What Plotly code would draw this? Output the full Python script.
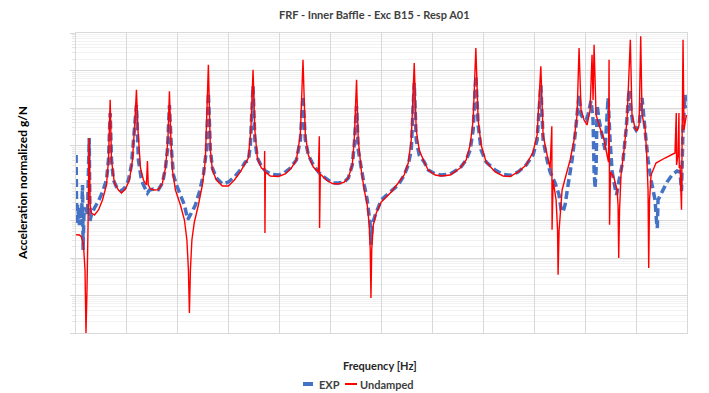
import plotly.graph_objects as go

# ---- data (frequency in Hz, acceleration in g/N) ----
freq_exp = [0.2, 1.4, 2.9, 4.9, 6.9, 8.8, 10.8, 12.8, 13.9, 15.7, 18.6, 20.6, 22.6, 25.9, 27.5, 30.4,
            36.3, 44.2, 52.0, 59.9, 63.8, 67.1, 69.7, 73.6, 81.4, 89.3, 97.1, 103.0, 108.9, 118.7, 122.6,
            128.5, 134.4, 140.3, 144.3, 152.1, 161.9, 169.8, 175.7, 179.6, 183.5, 187.5, 191.4, 197.3,
            205.1, 213.0, 219.4, 226.6, 234.5, 242.3, 250.2, 256.1, 260.0, 263.9, 267.9, 275.7, 287.5,
            299.3, 311.1, 322.8, 332.6, 338.5, 342.4, 347.7, 351.3, 356.2, 364.1, 371.9, 383.7, 397.4,
            409.2, 421.0, 432.8, 440.6, 445.8, 450.4, 456.3, 466.1, 477.9, 489.6, 503.4, 515.1, 526.9,
            534.8, 542.6, 546.5, 551.0, 554.4, 560.2, 566.1, 572.0, 577.9, 579.3, 581.8, 587.7, 599.5,
            619.1, 632.9, 644.6, 652.5, 658.4, 664.3, 668.2, 674.1, 683.9, 691.7, 705.5, 717.2, 734.9,
            754.5, 766.3, 774.1, 780.0, 785.3, 789.8, 795.7, 805.5, 823.2, 838.9, 852.6, 868.3, 884.0,
            897.7, 905.6, 912.9, 917.4, 925.2, 931.1, 940.9, 948.8, 952.7, 956.6, 960.5, 966.4, 974.3,
            980.2, 988.0, 991.9, 995.9, 1001.7, 1005.7, 1009.6, 1011.6, 1015.5, 1017.5, 1019.4, 1021.4,
            1023.4, 1027.3, 1033.2, 1039.1, 1045.0, 1048.9, 1052.8, 1058.7, 1061.6, 1068.5, 1074.4,
            1080.3, 1086.2, 1090.1, 1094.1, 1100.0, 1105.9, 1111.7, 1117.6, 1123.5, 1129.4, 1137.3,
            1140.1, 1141.7, 1143.1, 1152.9, 1160.8, 1170.6, 1180.4, 1186.3, 1189.2, 1192.2, 1196.1, 1200.0]
acc_exp = [0.558, 0.00759, 0.0259, 0.0140, 0.00759, 0.0216, 0.0117, 0.0885, 0.00163, 0.0169, 0.0216,
           0.0191, 0.0140, 1.58, 0.0097, 0.0149,
           0.0216, 0.0331, 0.0575, 0.120, 0.411, 7.36, 0.411, 0.120, 0.0692, 0.0612, 0.0782, 0.120,
           0.302, 12.0, 0.411,
           0.120, 0.0782, 0.0541, 0.0651, 0.0692, 0.0663, 0.100, 0.251, 0.759, 12.0, 0.759, 0.163,
           0.0885,
           0.0479, 0.0259, 0.0105, 0.0158, 0.0259, 0.0575, 0.163, 0.759, 25.1, 0.759, 0.251, 0.136,
           0.094,
           0.106, 0.145, 0.222, 0.363, 0.386, 1.03, 38.6, 1.40, 0.464, 0.284, 0.209, 0.169, 0.163,
           0.185, 0.251, 0.411, 1.40, 20.9, 1.40, 0.558, 0.302, 0.185, 0.136, 0.100, 0.100, 0.106,
           0.136, 0.302, 1.03, 11.3, 0.759, 0.251, 0.0885, 0.0352, 0.00759, 0.00226, 0.00759, 0.0140,
           0.0352,
           0.0612, 0.0885, 0.163, 0.302, 0.759, 46.4, 1.40, 0.558, 0.363, 0.222, 0.174, 0.163, 0.174,
           0.251, 0.411, 0.759, 2.59, 71.3, 3.52, 0.759, 0.363, 0.222, 0.169, 0.160, 0.197, 0.302,
           0.558, 1.40, 41.0, 1.40, 0.411, 0.197, 0.100, 0.0479, 0.0191, 0.0169, 0.0259, 0.0885,
           0.411,
           1.91, 22.2, 6.51, 5.41, 4.79, 6.51, 12.0, 15.4, 4.79, 0.222, 0.0736, 0.222,
           12.0, 4.79, 1.91, 0.759, 18.5, 1.40, 0.209, 0.0736, 0.0479, 0.163, 0.411,
           2.59, 30.2, 8.84, 3.52, 2.59, 3.52, 18.5, 2.59, 0.411, 0.120, 0.0352,
           0.0097, 0.00631, 0.0352, 0.0651, 0.106, 0.163, 0.209, 0.197, 0.0612, 2.93, 22.2, 10.0]

freq_und = [0.2, 6.9, 10.8, 14.7, 17.7, 19.6, 21.6, 23.5, 25.9, 27.9, 30.4, 36.3, 44.2, 52.0, 59.9,
            63.8, 67.1, 69.7, 75.5, 83.4, 89.3, 97.1, 104.9, 110.9, 115.8, 118.7, 121.7, 126.6, 132.5,
            138.3, 140.3, 141.9, 146.2, 154.0, 161.9, 169.8, 175.7, 180.5, 183.5, 186.4, 189.4, 195.3,
            205.1, 213.0, 217.8, 220.8, 222.7, 224.7, 227.6, 232.5, 240.4, 248.2, 254.1, 260.0, 263.9,
            267.9, 275.7, 287.5, 299.3, 311.1, 322.8, 332.6, 338.5, 343.4, 347.7, 351.3, 356.2, 364.1,
            370.0, 370.5, 371.1, 371.9, 381.7, 397.4, 411.1, 422.9, 432.8, 440.6, 445.8, 450.4, 456.3,
            466.1, 475.9, 477.9, 478.4, 479.8, 491.6, 503.4, 515.1, 526.9, 534.8, 542.6, 546.5, 551.0,
            554.4, 560.2, 566.1, 572.0, 575.9, 577.9, 579.3, 580.8, 583.8, 589.7, 599.5, 619.1, 632.9,
            644.6, 652.5, 658.4, 664.3, 668.2, 674.1, 683.9, 691.7, 705.5, 717.2, 734.9, 754.5, 766.3,
            774.1, 780.0, 785.3, 789.8, 795.7, 805.5, 823.2, 838.9, 852.6, 868.3, 884.0, 897.7, 905.6,
            912.9, 917.4, 925.2, 931.1, 934.5, 935.0, 937.0, 942.9, 945.8, 946.8, 948.8, 954.7, 962.5,
            970.4, 978.2, 984.1, 988.0, 991.9, 997.8, 1003.7, 1009.6, 1013.5, 1015.5, 1017.5, 1021.4,
            1029.2, 1037.1, 1043.0, 1045.9, 1046.9, 1047.9, 1049.8, 1056.7, 1062.6, 1064.6, 1065.9,
            1067.5, 1070.4, 1076.3, 1082.2, 1088.7, 1092.0, 1097.9, 1101.8, 1105.9, 1109.1, 1111.7,
            1117.6, 1120.5, 1123.5, 1124.8, 1126.4, 1129.4, 1139.1, 1156.8, 1176.4, 1178.9, 1179.5,
            1182.3, 1184.2, 1184.8, 1186.3, 1189.2, 1192.2, 1194.1, 1196.7, 1199.0]
acc_und = [0.00418, 0.0041, 0.00363, 0.00222, 0.00048, 0.00001, 0.00014, 0.00558, 1.58, 0.0259, 0.0158,
           0.0140, 0.0191, 0.0352, 0.0885,
           0.411, 16.6, 0.411, 0.100, 0.0651, 0.0541, 0.0692, 0.120, 0.411, 4.79, 30.8, 2.59, 0.251,
           0.120,
           0.0885, 0.386, 0.0885, 0.0692, 0.0651, 0.0663, 0.100, 0.251, 1.40, 27.9, 1.40, 0.222,
           0.0651,
           0.0259, 0.0103, 0.00302, 0.00048, 0.0000341, 0.00048, 0.00302, 0.00912, 0.0259, 0.0885,
           0.411, 143.0, 0.759,
           0.222, 0.120, 0.0832, 0.0832, 0.120, 0.197, 0.341, 0.464, 2.59, 105.0, 2.59, 0.464, 0.251,
           0.222, 0.714, 0.00464, 0.197, 0.154, 0.149, 0.174, 0.251, 0.411, 1.91, 194.0, 1.91, 0.558,
           0.267, 0.197, 1.76, 0.00631, 0.174, 0.120, 0.097, 0.094, 0.106, 0.136, 0.302, 1.40, 56.9,
           1.40, 0.222, 0.0651, 0.0259, 0.00759, 0.00163, 0.0000858, 0.00163, 0.00759, 0.0158, 0.0311,
           0.0575, 0.100,
           0.163, 0.341, 1.40, 158.0, 2.59, 0.759, 0.363, 0.222, 0.163, 0.154, 0.163, 0.251, 0.411,
           1.03, 4.79, 398.0, 4.79, 1.03, 0.363, 0.197, 0.154, 0.149, 0.197, 0.302, 0.671, 1.91,
           129.0, 1.91, 0.558, 0.251, 3.25, 0.00569, 0.120, 0.0352, 0.00558, 0.000359, 0.00558, 0.0651,
           0.163,
           0.411, 1.40, 6.51, 398.0, 8.84, 4.79, 3.52, 8.84, 264.0, 16.3, 488.0, 6.51,
           2.93, 1.40, 0.558, 0.363, 194.0, 0.00773, 0.197, 0.136, 0.0651, 0.0259, 0.001,
           0.0191, 0.163, 0.759, 4.79, 662.0, 6.51, 2.93, 2.44, 3.52, 817.0, 6.51,
           2.93, 0.759, 0.0651, 0.00054, 0.0352, 0.163, 0.341, 0.464, 0.631, 7.36, 0.302,
           0.558, 7.36, 0.251, 0.302, 0.0194, 662.0, 2.59, 4.42, 6.51]

series_names = ["EXP", "Undamped"]
series_colors = ["#4472C4", "#FF0000"]
chart_title = "FRF - Inner Baffle - Exc B15 - Resp A01"
x_title = "Frequency [Hz]"
y_title = "Acceleration normalized g/N"

fig = go.Figure()
fig.add_trace(go.Scatter(x=freq_exp, y=acc_exp, mode="lines", name=series_names[0],
                         line=dict(color=series_colors[0], width=3.5, dash="8px,4px", simplify=False)))
fig.add_trace(go.Scatter(x=freq_und, y=acc_und, mode="lines", name=series_names[1],
                         line=dict(color=series_colors[1], width=1.4, simplify=False)))

font_family = "Lato, 'Open Sans', sans-serif"
legend_y = -0.17

fig.update_layout(
    width=709, height=393,
    margin=dict(l=76, r=22, t=33, b=60, autoexpand=False),
    paper_bgcolor="white", plot_bgcolor="white",
    font=dict(family=font_family, size=11, color="#404040"),
    showlegend=False,
    xaxis=dict(range=[0, 1200], dtick=100, showticklabels=False, ticks="",
               showgrid=True, gridcolor="#d9d9d9", gridwidth=1, zeroline=False,
               showline=True, linecolor="#d9d9d9", mirror=True),
    yaxis=dict(type="log", range=[-5, 3], dtick=1, showticklabels=False,
               ticks="outside", ticklen=5, tickcolor="#d9d9d9",
               showgrid=True, gridcolor="#d9d9d9", gridwidth=1, zeroline=False,
               minor=dict(dtick="D1", showgrid=True, gridcolor="#f2f2f2",
                          ticks="outside", ticklen=3, tickcolor="#e6e6e6"),
               showline=True, linecolor="#d9d9d9", mirror=True),
    shapes=[
        # legend keys
        dict(type="line", xref="paper", yref="paper", x0=0.3715, x1=0.3879, y0=legend_y, y1=legend_y,
             line=dict(color=series_colors[0], width=4)),
        dict(type="line", xref="paper", yref="paper", x0=0.4403, x1=0.4599, y0=legend_y, y1=legend_y,
             line=dict(color=series_colors[1], width=2)),
    ],
    annotations=[
        dict(text="<b>" + chart_title + "</b>", xref="paper", yref="paper", x=0.489, y=1.063,
             showarrow=False, xanchor="center", yanchor="middle",
             font=dict(family=font_family, size=11, color="#404040")),
        dict(text="<b>" + x_title + "</b>", xref="paper", yref="paper", x=0.4975, y=-0.107,
             showarrow=False, xanchor="center", yanchor="middle",
             font=dict(family=font_family, size=11, color="#262626")),
        dict(text="<b>" + y_title + "</b>", xref="paper", yref="paper", x=-0.0884, y=0.5,
             showarrow=False, xanchor="center", yanchor="middle", textangle=-90,
             font=dict(family=font_family, size=12, color="#000000")),
        # legend labels
        dict(text="<b>" + series_names[0] + "</b>", xref="paper", yref="paper", x=0.3944, y=legend_y,
             showarrow=False, xanchor="left", yanchor="middle",
             font=dict(family=font_family, size=11, color="#404040")),
        dict(text="<b>" + series_names[1] + "</b>", xref="paper", yref="paper", x=0.4615, y=legend_y,
             showarrow=False, xanchor="left", yanchor="middle",
             font=dict(family=font_family, size=11, color="#404040")),
    ],
)

fig.write_html("out.html")
